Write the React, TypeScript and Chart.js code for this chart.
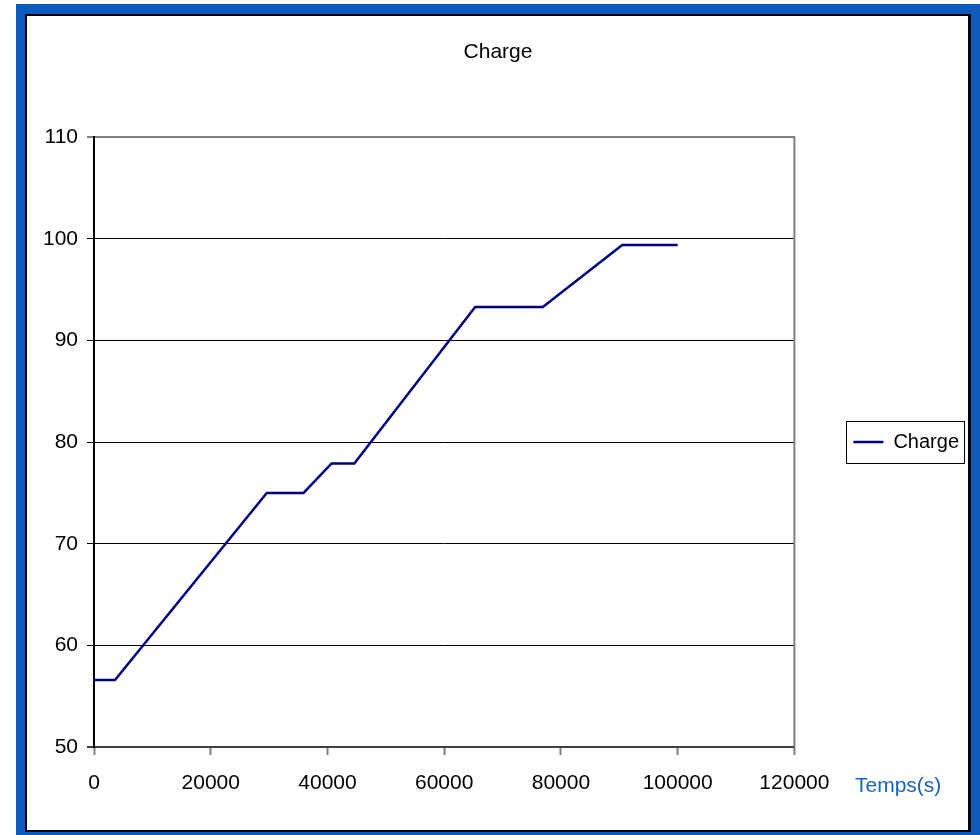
import React, { useEffect, useRef } from 'react';
import { Chart, registerables } from 'chart.js';

Chart.register(...registerables);

// ---- data ----
const timeSeconds = [0, 3600, 29600, 35900, 40700, 44600, 65300, 76900, 90500, 100000];
const chargeValues = [56.6, 56.6, 75.0, 75.0, 77.9, 77.9, 93.3, 93.3, 99.4, 99.4];
const seriesName = 'Charge';
const chartTitle = 'Charge';
const xAxisLabel = 'Temps(s)';
const xMin = 0;
const xMax = 120000;
const xStep = 20000;
const yMin = 50;
const yMax = 110;
const yStep = 10;

const SANS = '"Liberation Sans Narrow", "Liberation Sans", Arial, sans-serif';

const framePlugin = {
  id: 'excelFrame',
  beforeDraw(chart: any) {
    const { ctx, width, height } = chart;
    ctx.save();
    ctx.fillStyle = '#ffffff';
    ctx.fillRect(0, 0, width, height);
    ctx.fillStyle = '#0b5cbd';
    ctx.fillRect(16, 4, width - 16, height - 4);
    ctx.fillStyle = '#000000';
    ctx.fillRect(25, 14, 946, 818);
    ctx.fillStyle = '#ffffff';
    ctx.fillRect(27, 16, 941, 814);
    ctx.restore();
  },
  afterDraw(chart: any) {
    const { ctx, chartArea } = chart;
    ctx.save();
    // right border of plot area
    ctx.strokeStyle = '#808080';
    ctx.lineWidth = 2;
    ctx.beginPath();
    ctx.moveTo(chartArea.right, chartArea.top - 1);
    ctx.lineTo(chartArea.right, chartArea.bottom);
    ctx.stroke();
    // legend frame
    const lg = chart.legend;
    if (lg && lg.legendHitBoxes && lg.legendHitBoxes.length) {
      const hb = lg.legendHitBoxes[0];
      const l = Math.round(hb.left - 7) + 0.5;
      const t = Math.round(hb.top + hb.height / 2 - 21) + 0.5;
      const r = Math.round(hb.left + hb.width + 5) + 0.5;
      ctx.strokeStyle = '#000000';
      ctx.lineWidth = 1;
      ctx.strokeRect(l, t, r - l, 42);
    }
    // x axis title to the right of tick labels
    ctx.fillStyle = '#1a62c0';
    ctx.font = '21px "Liberation Sans", Arial, sans-serif';
    ctx.textAlign = 'left';
    ctx.textBaseline = 'middle';
    ctx.fillText(xAxisLabel, 855, 786);
    ctx.restore();
  },
};

export default function App() {
  const canvasRef = useRef<HTMLCanvasElement | null>(null);

  useEffect(() => {
    const canvas = canvasRef.current;
    if (!canvas) return;
    const chart = new Chart(canvas, {
      type: 'line',
      data: {
        datasets: [
          {
            label: seriesName,
            data: timeSeconds.map((t, i) => ({ x: t, y: chargeValues[i] })),
            borderColor: '#000080',
            backgroundColor: '#000080',
            borderWidth: 2.5,
            pointRadius: 0,
            tension: 0,
            fill: false,
          },
        ],
      },
      options: {
        responsive: false,
        devicePixelRatio: 1,
        animation: false,
        layout: { padding: { left: 27, right: 11, top: 16, bottom: 5 } },
        plugins: {
          title: {
            display: true,
            text: chartTitle,
            color: '#000000',
            font: { family: SANS, size: 21, weight: 'normal', lineHeight: 1.2 },
            padding: { top: 24, bottom: 72 },
          },
          legend: {
            display: true,
            position: 'right',
            fullSize: false,
            align: 'center',
            maxWidth: 175,
            labels: {
              usePointStyle: true,
              pointStyle: 'line',
              pointStyleWidth: 30,
              padding: 59,
              color: '#000000',
              font: { family: SANS, size: 20 },
            },
          },
          tooltip: { enabled: false },
        },
        scales: {
          x: {
            type: 'linear',
            min: xMin,
            max: xMax,
            afterFit: (s: any) => {
              s.height = 83;
            },
            ticks: {
              stepSize: xStep,
              color: '#000000',
              padding: 16,
              maxRotation: 0,
              font: { family: SANS, size: 21 },
              callback: (v: any) => String(v),
            },
            grid: {
              drawOnChartArea: false,
              drawTicks: true,
              tickLength: 8,
              tickColor: '#808080',
              tickWidth: 2,
            },
            border: { display: true, color: '#404040', width: 2 },
          },
          y: {
            type: 'linear',
            min: yMin,
            max: yMax,
            afterFit: (s: any) => {
              s.width = 67;
            },
            ticks: {
              stepSize: yStep,
              color: '#000000',
              padding: 9,
              font: { family: SANS, size: 21 },
              callback: (v: any) => String(v),
            },
            grid: {
              drawTicks: true,
              tickLength: 7,
              color: (c: any) =>
                c.tick && c.tick.value === yMax ? '#808080' : c.tick && c.tick.value === yMin ? '#404040' : '#000000',
              lineWidth: (c: any) => (c.tick && (c.tick.value === yMax || c.tick.value === yMin) ? 2 : 1),
            },
            border: { display: true, color: '#000000', width: 2 },
          },
        },
      },
      plugins: [framePlugin],
    });
    return () => chart.destroy();
  }, []);

  return (
    <canvas
      ref={canvasRef}
      width={980}
      height={835}
      style={{ position: 'absolute', left: 0, top: 0, width: 980, height: 835 }}
    />
  );
}
